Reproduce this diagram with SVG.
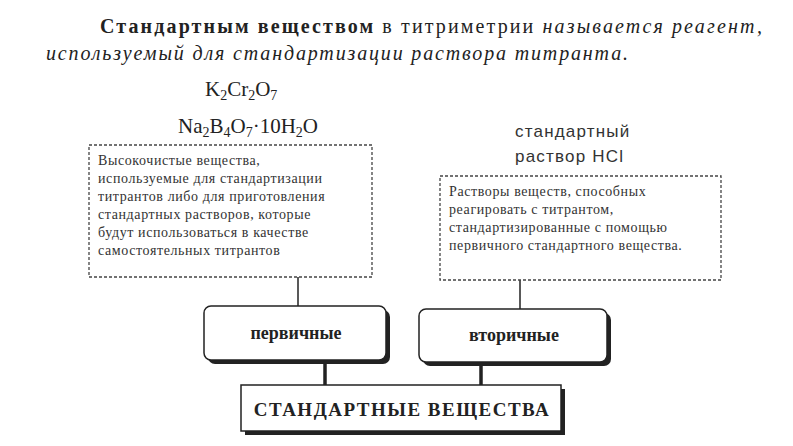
<svg xmlns="http://www.w3.org/2000/svg" width="793" height="446" viewBox="0 0 793 446">
<style>
.s{font-family:"Liberation Serif",serif;fill:#222}
.d{fill:#fff;stroke:#444;stroke-width:1.3;stroke-dasharray:3 2}
.b{fill:#fff;stroke:#222;stroke-width:1.5}
.sh{fill:#222}
.sm{font-family:"Liberation Serif",serif;font-size:14px;fill:#333;letter-spacing:0.6px}
</style>
<rect width="793" height="446" fill="#fff"/>
<text class="s" font-size="20" x="100" y="33" textLength="662" lengthAdjust="spacing"><tspan font-weight="bold">Стандартным веществом</tspan> в титриметрии <tspan font-style="italic">называется реагент,</tspan></text>
<text class="s" font-size="20" font-style="italic" x="46" y="60" textLength="582" lengthAdjust="spacing">используемый для стандартизации раствора титранта.</text>
<text class="s" font-size="21" x="205" y="96">K<tspan font-size="14" dy="4">2</tspan><tspan dy="-4">Cr</tspan><tspan font-size="14" dy="4">2</tspan><tspan dy="-4">O</tspan><tspan font-size="14" dy="4">7</tspan></text>
<text class="s" font-size="21" x="178" y="133">Na<tspan font-size="14" dy="4">2</tspan><tspan dy="-4">B</tspan><tspan font-size="14" dy="4">4</tspan><tspan dy="-4">O</tspan><tspan font-size="14" dy="4">7</tspan><tspan dy="-4">·10H</tspan><tspan font-size="14" dy="4">2</tspan><tspan dy="-4">O</tspan></text>
<text font-family="Liberation Sans, sans-serif" font-size="17" letter-spacing="1.2" fill="#333" x="515" y="137">стандартный</text>
<text font-family="Liberation Sans, sans-serif" font-size="17" letter-spacing="1.2" fill="#333" x="515" y="162">раствор HCl</text>
<g id="connectors" stroke="#222" fill="none">
<line x1="298" y1="277" x2="298" y2="306" stroke-width="1.5"/>
<line x1="520" y1="280" x2="520" y2="309" stroke-width="1.5"/>
<line x1="325" y1="362" x2="325" y2="385" stroke-width="3.5"/>
<line x1="481" y1="364" x2="481" y2="385" stroke-width="3.5"/>
</g>
<g id="desc-primary">
<rect class="d" x="89" y="145" width="283" height="132"/>
<text class="sm" x="98" y="165">Высокочистые вещества,</text>
<text class="sm" x="98" y="183">используемые для стандартизации</text>
<text class="sm" x="98" y="201">титрантов либо для приготовления</text>
<text class="sm" x="98" y="219">стандартных растворов, которые</text>
<text class="sm" x="98" y="237">будут использоваться в качестве</text>
<text class="sm" x="98" y="255">самостоятельных титрантов</text>
</g>
<g id="desc-secondary">
<rect class="d" x="440" y="176" width="281" height="104"/>
<text class="sm" x="449" y="196">Растворы веществ, способных</text>
<text class="sm" x="449" y="214">реагировать с титрантом,</text>
<text class="sm" x="449" y="232">стандартизированные с помощью</text>
<text class="sm" x="449" y="250">первичного стандартного вещества.</text>
</g>
<g id="primary">
<rect class="sh" x="208" y="310" width="182" height="54" rx="7"/>
<rect class="b" x="204" y="306" width="182" height="54" rx="7"/>
<text class="s" font-size="18" font-weight="bold" x="296" y="339" text-anchor="middle">первичные</text>
</g>
<g id="secondary">
<rect class="sh" x="423" y="313" width="188" height="53" rx="7"/>
<rect class="b" x="419" y="309" width="188" height="53" rx="7"/>
<text class="s" font-size="18" font-weight="bold" x="514" y="341" text-anchor="middle">вторичные</text>
</g>
<g id="standard">
<rect class="sh" x="245" y="389" width="320" height="46"/>
<rect class="b" x="241" y="385" width="320" height="46"/>
<text class="s" font-size="19" font-weight="bold" x="402" y="416" text-anchor="middle" letter-spacing="1.5">СТАНДАРТНЫЕ ВЕЩЕСТВА</text>
</g>
</svg>
